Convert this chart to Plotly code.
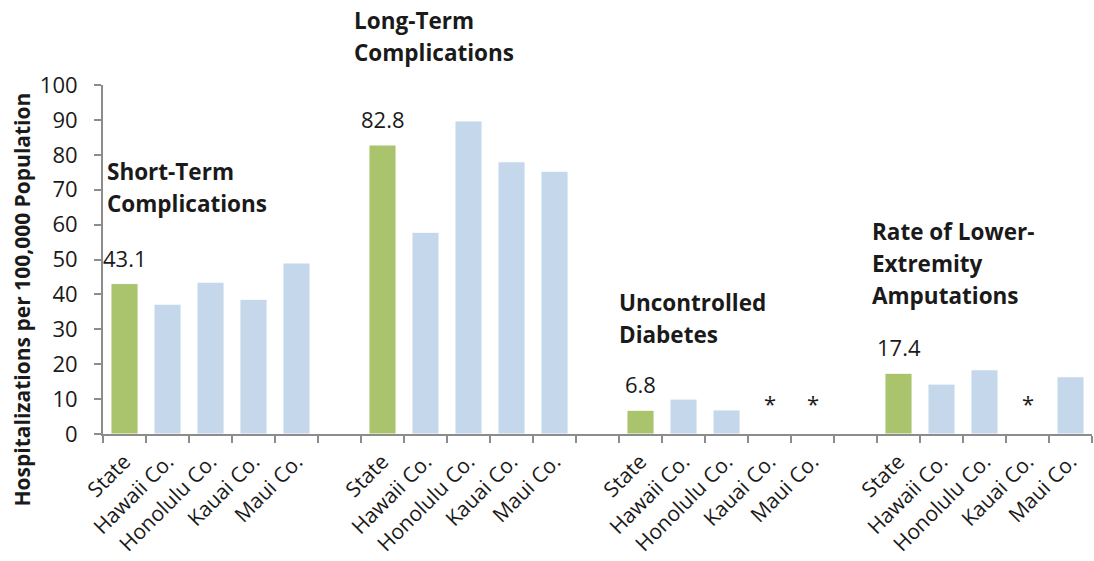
import plotly.graph_objects as go

# Hospitalization rates per 100,000 population, by measure and area
groups = [
    ["Short-Term", "Complications"],
    ["Long-Term", "Complications"],
    ["Uncontrolled", "Diabetes"],
    ["Rate of Lower-", "Extremity", "Amputations"],
]
areas = ["State", "Hawaii Co.", "Honolulu Co.", "Kauai Co.", "Maui Co."]

short_term = [43.1, 37.2, 43.5, 38.6, 49.0]
long_term = [82.8, 57.8, 89.7, 78.0, 75.3]
uncontrolled = [6.8, 10.0, 6.9, None, None]
amputations = [17.4, 14.3, 18.4, None, 16.4]
series = [short_term, long_term, uncontrolled, amputations]

# Placement of each measure title: centre height (fraction of plot height)
# and horizontal nudge in px
title_y = [0.705, 1.14, 0.332, 0.489]
title_dx = [2, -9, -2, -7]
LINE_GAP = 32

GREEN = "#A9C46C"
BLUE = "#C5D8EB"
TEXT = "#1a1a1a"
AXIS = "#8c8c8c"
FONT = "Open Sans"

slot = len(areas) + 1  # one empty slot between measures

xs, ys, colors = [], [], []
for g, vals in enumerate(series):
    for i, v in enumerate(vals):
        xs.append(g * slot + i)
        ys.append(v)
        colors.append(GREEN if i == 0 else BLUE)

fig = go.Figure(
    go.Bar(
        x=xs,
        y=ys,
        marker=dict(color=colors, line=dict(color="white", width=1)),
        width=0.63,
        hoverinfo="x+y",
    )
)

annotations = []
for g, vals in enumerate(series):
    # state value label above the green bar
    annotations.append(dict(
        x=g * slot, y=vals[0], xref="x", yref="y",
        text=f"{vals[0]:.1f}", showarrow=False,
        yanchor="bottom", yshift=9,
        font=dict(family=FONT, size=22, color=TEXT),
    ))
    # suppressed values marked with an asterisk
    for i, v in enumerate(vals):
        if v is None:
            annotations.append(dict(
                x=g * slot + i, y=9, xref="x", yref="y",
                text="*", showarrow=False,
                font=dict(family=FONT, size=22, color=TEXT),
            ))
    # measure title, one annotation per line
    n = len(groups[g])
    for k, line in enumerate(groups[g]):
        annotations.append(dict(
            x=g * slot - 0.5, y=title_y[g], xref="x", yref="paper",
            text=f"<b>{line}</b>", showarrow=False,
            xanchor="left", yanchor="middle", xshift=title_dx[g],
            yshift=((n - 1) / 2 - k) * LINE_GAP,
            font=dict(family=FONT, size=22.5, color=TEXT),
        ))

annotations.append(dict(
    x=-0.082, y=0.385, xref="paper", yref="paper",
    text="<b>Hospitalizations per 100,000 Population</b>",
    textangle=-90, showarrow=False,
    xanchor="center", yanchor="middle",
    font=dict(family=FONT, size=21, color=TEXT),
))

tick_vals = [g * slot + i for g in range(len(series)) for i in range(len(areas))]
tick_text = areas * len(series)
n_slots = slot * len(series) - 1

fig.update_layout(
    width=1094,
    height=561,
    margin=dict(l=103, r=2, t=85, b=127),
    paper_bgcolor="white",
    plot_bgcolor="white",
    showlegend=False,
    annotations=annotations,
    font=dict(family=FONT, color=TEXT),
    xaxis=dict(
        range=[-0.5, n_slots - 0.5],
        automargin=False,
        tickmode="array",
        tickvals=tick_vals,
        ticktext=tick_text,
        tickangle=-45,
        ticks="",
        ticklabelstandoff=5,
        tickfont=dict(family=FONT, size=21, color=TEXT),
        showline=True,
        linecolor=AXIS,
        linewidth=2,
        showgrid=False,
        zeroline=False,
        minor=dict(
            tickmode="array",
            tickvals=[k - 0.5 for k in range(n_slots + 1)],
            ticks="outside",
            ticklen=7,
            tickwidth=2,
            tickcolor=AXIS,
            showgrid=False,
        ),
    ),
    yaxis=dict(
        range=[0, 100],
        automargin=False,
        tickmode="linear",
        tick0=0,
        dtick=10,
        ticks="outside",
        ticklen=7,
        tickwidth=2,
        tickcolor=AXIS,
        ticklabelstandoff=12,
        tickfont=dict(family=FONT, size=22, color=TEXT),
        showline=True,
        linecolor=AXIS,
        linewidth=2,
        showgrid=False,
        zeroline=False,
    ),
)

fig.write_html("out.html")
